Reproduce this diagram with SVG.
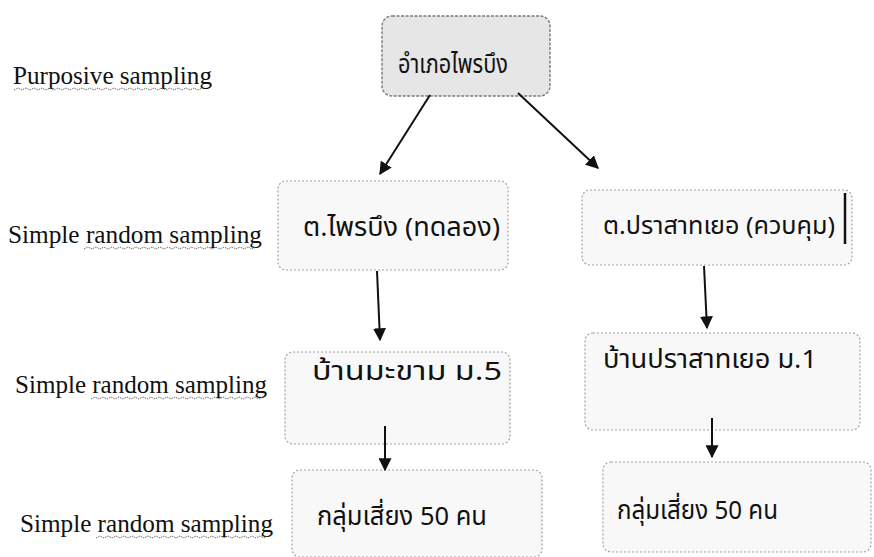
<svg xmlns="http://www.w3.org/2000/svg" width="874" height="557" viewBox="0 0 874 557">
<style>
.box{fill:#f8f8f8;stroke:#a0a0a0;stroke-width:1.2;stroke-dasharray:2 2}
.top{fill:#e6e6e6;stroke:#7a7a7a;stroke-width:1.4;stroke-dasharray:3 1.5}
.th{font-family:"Noto Sans Thai","Noto Sans","DejaVu Sans",sans-serif;font-size:26px;fill:#111}
.lab{font-family:"Liberation Serif",serif;font-size:25px;fill:#111}
.conn line{stroke:#111;stroke-width:2}
.sq{fill:none;stroke:#666;stroke-width:1;stroke-dasharray:1.5 1}
</style>
<defs>
<marker id="ah" viewBox="0 0 10 10" refX="9" refY="5" markerWidth="6.5" markerHeight="6.5" orient="auto" markerUnits="strokeWidth"><path d="M0,0 L10,5 L0,10 z" fill="#111"/></marker>
</defs>
<rect width="874" height="557" fill="#fff"/>
<g id="labels">
<text class="lab" x="13" y="84" textLength="199" lengthAdjust="spacingAndGlyphs">Purposive  sampling</text>
<path class="sq" d="M14,90 l4,-2 4,2 4,-2 4,2 4,-2 4,2 4,-2 4,2 4,-2 4,2 4,-2 4,2 4,-2 4,2 4,-2 4,2 4,-2 4,2 4,-2 4,2 4,-2 4,2 4,-2 4,2 4,-2 4,2 4,-2 4,2 4,-2 4,2 4,-2 4,2 4,-2 4,2 4,-2 4,2 4,-2 4,2 4,-2 4,2 4,-2 4,2 4,-2 4,2 4,-2 4,2 4,-2"/>
<text class="lab" x="8" y="243" textLength="254" lengthAdjust="spacingAndGlyphs">Simple random  sampling</text>
<path class="sq" d="M84,249 l4,-2 4,2 4,-2 4,2 4,-2 4,2 4,-2 4,2 4,-2 4,2 4,-2 4,2 4,-2 4,2 4,-2 4,2 4,-2 4,2 4,-2 4,2 4,-2 4,2 4,-2 4,2 4,-2 4,2 4,-2 4,2 4,-2 4,2 4,-2 4,2 4,-2 4,2 4,-2 4,2 4,-2 4,2 4,-2 4,2 4,-2 4,2 4,-2"/>
<text class="lab" x="15" y="393" textLength="252" lengthAdjust="spacingAndGlyphs">Simple random  sampling</text>
<path class="sq" d="M91,399 l4,-2 4,2 4,-2 4,2 4,-2 4,2 4,-2 4,2 4,-2 4,2 4,-2 4,2 4,-2 4,2 4,-2 4,2 4,-2 4,2 4,-2 4,2 4,-2 4,2 4,-2 4,2 4,-2 4,2 4,-2 4,2 4,-2 4,2 4,-2 4,2 4,-2 4,2 4,-2 4,2 4,-2 4,2 4,-2 4,2 4,-2 4,2 4,-2"/>
<text class="lab" x="20" y="532" textLength="253" lengthAdjust="spacingAndGlyphs">Simple random  sampling</text>
<path class="sq" d="M96,538 l4,-2 4,2 4,-2 4,2 4,-2 4,2 4,-2 4,2 4,-2 4,2 4,-2 4,2 4,-2 4,2 4,-2 4,2 4,-2 4,2 4,-2 4,2 4,-2 4,2 4,-2 4,2 4,-2 4,2 4,-2 4,2 4,-2 4,2 4,-2 4,2 4,-2 4,2 4,-2 4,2 4,-2 4,2 4,-2 4,2 4,-2 4,2 4,-2"/>
</g>
<g id="n_amphoe">
<rect class="top" x="382" y="16" width="168" height="80" rx="10"/>
<text class="th" x="398" y="73" textLength="110" lengthAdjust="spacingAndGlyphs">อำเภอไพรบึง</text>
</g>
<g id="n_phraibueng">
<rect class="box" x="278" y="181" width="230" height="89" rx="8"/>
<text class="th" x="303" y="236" textLength="197" lengthAdjust="spacingAndGlyphs">ต.ไพรบึง (ทดลอง)</text>
</g>
<g id="n_prasat">
<rect class="box" x="582" y="190" width="270" height="75" rx="8"/>
<text class="th" x="603" y="234" textLength="232" lengthAdjust="spacingAndGlyphs" style="font-size:24px">ต.ปราสาทเยอ (ควบคุม)</text>
<line x1="845" y1="193" x2="845" y2="244" stroke="#111" stroke-width="2.5"/>
</g>
<g id="n_makham">
<rect class="box" x="285" y="352" width="225" height="92" rx="8"/>
<text class="th" x="312" y="380" textLength="190" lengthAdjust="spacingAndGlyphs">บ้านมะขาม ม.5</text>
</g>
<g id="n_prasat_m1">
<rect class="box" x="585" y="333" width="275" height="97" rx="8"/>
<text class="th" x="603" y="368" textLength="214" lengthAdjust="spacingAndGlyphs">บ้านปราสาทเยอ ม.1</text>
</g>
<g id="n_risk_left">
<rect class="box" x="292" y="470" width="250" height="87" rx="8"/>
<text class="th" x="317" y="525" textLength="170" lengthAdjust="spacingAndGlyphs">กลุ่มเสี่ยง 50 คน</text>
</g>
<g id="n_risk_right">
<rect class="box" x="603" y="462" width="268" height="90" rx="8"/>
<text class="th" x="617" y="519" textLength="161" lengthAdjust="spacingAndGlyphs">กลุ่มเสี่ยง 50 คน</text>
</g>
<g id="connectors" class="conn">
<line x1="430" y1="95" x2="380" y2="174" marker-end="url(#ah)"/>
<line x1="518" y1="93" x2="598" y2="168" marker-end="url(#ah)"/>
<line x1="377" y1="271" x2="380" y2="340" marker-end="url(#ah)"/>
<line x1="704" y1="266" x2="707" y2="328" marker-end="url(#ah)"/>
<line x1="385" y1="426" x2="385" y2="470" marker-end="url(#ah)"/>
<line x1="712" y1="418" x2="712" y2="457" marker-end="url(#ah)"/>
</g>
</svg>
